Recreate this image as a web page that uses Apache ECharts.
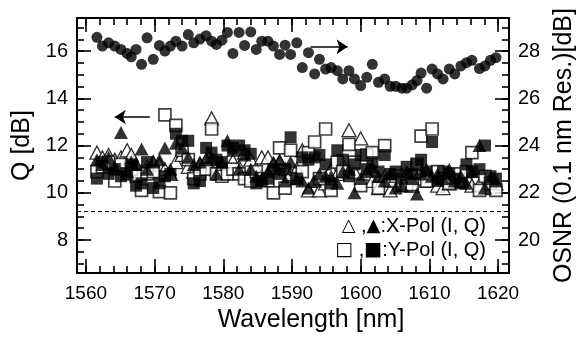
<!DOCTYPE html>
<html><head><meta charset="utf-8">
<script src="https://cdn.jsdelivr.net/npm/echarts@6/dist/echarts.min.js"></script>
<style>html,body{margin:0;padding:0;background:#fff}#c{width:585px;height:338px}</style>
</head><body><div id="c"></div>
<script>
// ---- data ----
const wavelength = [1561.6,1562.4,1563.3,1564.2,1565.1,1566.0,1566.6,1567.3,1568.1,1568.9,
  1569.8,1570.7,1571.5,1572.3,1573.1,1574.0,1574.9,1575.7,1576.6,1577.5,
  1578.3,1579.0,1579.8,1580.6,1581.4,1582.3,1583.1,1584.0,1584.8,1585.6,
  1586.5,1587.3,1588.2,1589.0,1589.8,1590.7,1591.5,1592.4,1593.3,1594.0,
  1594.9,1595.7,1596.6,1597.4,1598.3,1599.1,1600.0,1600.9,1601.7,1602.6,
  1603.5,1604.3,1605.1,1606.0,1606.7,1607.5,1608.2,1608.8,1609.6,1610.4,
  1611.2,1612.0,1612.9,1613.7,1614.6,1615.4,1616.2,1617.3,1618.1,1618.9,1619.7];
const osnr = [28.58,28.21,28.35,28.21,28.07,27.90,27.76,28.07,27.44,28.56,
  27.65,28.24,28.00,28.21,28.42,28.21,28.70,28.35,28.51,28.65,
  28.42,28.28,28.46,28.79,27.90,28.79,28.24,28.81,28.07,28.42,
  28.42,28.21,27.86,28.25,27.86,28.35,27.30,27.93,27.03,27.65,
  27.24,27.30,27.17,26.82,27.17,26.82,26.54,26.89,27.44,26.68,
  26.82,26.51,26.51,26.43,26.43,26.57,26.75,27.07,26.43,27.24,
  27.03,26.82,27.24,27.03,27.37,27.51,27.61,27.26,27.37,27.61,27.72];
const xPolI = [11.7,11.5,11.6,11.4,11.5,11.8,11.6,11.2,10.9,11.1,
  11.3,11.2,11.0,10.8,11.3,11.6,11.1,10.9,11.2,11.4,
  13.15,11.0,10.8,11.0,11.35,11.1,11.7,11.4,11.0,11.5,
  11.5,11.2,11.3,11.0,10.8,11.0,11.8,10.1,10.5,10.1,
  10.4,11.0,10.8,11.2,12.65,10.9,12.3,10.8,10.5,10.2,
  10.7,10.1,10.6,10.8,10.4,10.3,10.6,10.9,10.5,10.7,
  10.3,10.2,10.4,10.6,10.5,10.7,10.3,10.35,10.2,10.6,10.4];
const xPolQ = [11.4,11.2,11.5,11.1,12.55,10.9,11.3,11.2,11.85,11.0,
  11.3,11.4,11.9,11.0,12.1,11.9,11.5,11.2,11.3,11.4,
  11.5,10.8,11.3,12.2,11.8,11.0,11.6,11.0,10.7,10.6,
  10.9,11.3,11.4,10.5,11.3,10.6,10.5,10.2,10.5,10.8,
  10.7,10.7,10.4,10.9,11.0,10.0,10.6,10.9,11.1,10.7,
  10.5,10.8,10.2,10.3,10.9,10.6,9.95,10.8,11.0,10.7,
  10.8,10.6,11.0,10.5,10.7,10.4,10.9,12.0,10.2,10.6,10.5];
const yPolI = [10.9,11.1,11.3,10.5,11.2,10.8,11.0,10.7,10.1,10.8,
  10.9,10.05,13.3,10.0,12.85,11.8,11.4,10.6,10.8,11.0,
  12.7,10.8,10.7,10.8,11.0,10.8,10.6,10.5,10.9,10.6,
  10.5,10.0,11.9,10.2,11.8,10.6,10.9,11.7,12.15,10.6,
  12.7,10.1,11.3,10.9,12.05,11.3,10.3,11.6,11.7,10.2,
  12.0,10.5,10.7,10.4,10.3,10.35,11.2,12.4,10.5,12.7,
  10.9,10.6,10.4,10.8,10.5,10.9,11.7,10.1,10.7,10.4,10.1];
const yPolQ = [10.6,11.3,10.8,11.0,10.7,10.8,11.2,10.3,10.4,11.3,
  10.2,10.4,10.7,10.8,12.5,12.2,12.2,10.4,10.5,11.9,
  11.7,11.4,11.3,12.0,11.9,12.0,11.8,11.65,10.4,10.5,
  10.6,11.0,10.8,11.0,12.35,10.6,11.5,11.4,11.5,11.6,
  11.2,10.4,11.8,11.4,10.7,11.2,11.6,11.0,11.3,10.9,
  11.6,10.8,10.9,10.6,11.1,10.8,11.2,11.4,10.9,12.15,
  10.5,10.9,10.8,10.6,10.4,11.2,10.9,11.0,12.0,10.7,10.6];
const qThreshold = 9.2;
const wlMajor = [1560,1570,1580,1590,1600,1610,1620];
const wlMinor = [1560,1562,1564,1566,1568,1570,1572,1574,1576,1578,1580,1582,1584,1586,1588,1590,
  1592,1594,1596,1598,1600,1602,1604,1606,1608,1610,1612,1614,1616,1618,1620];
const qMajor = [8,10,12,14,16];
const qMinor = [7,7.5,8,8.5,9,9.5,10,10.5,11,11.5,12,12.5,13,13.5,14,14.5,15,15.5,16,16.5,17];
const osnrMajor = [20,22,24,26,28];
const osnrMinor = [19,19.5,20,20.5,21,21.5,22,22.5,23,23.5,24,24.5,25,25.5,26,26.5,27,27.5,28,28.5,29];
// annotation arrows (data coordinates)
const qArrow = [[1569.3, 13.21],[1564.2, 13.21]];
const osnrArrow = [[1592.7, 28.18],[1598.1, 28.18]];

const FONT = 'Liberation Sans, Arial, sans-serif';
const pairs = arr => wavelength.map((w,i)=>[w, arr[i]]);
const X_MIN = 1558.7, X_MAX = 1621.6, Q_MIN = 6.6, Q_MAX = 17.4, O_MIN = 18.6, O_MAX = 29.4;
const plain = v => String(v);

function xAx(pos, ticks, len, labels) {
  return {type:'value', position:pos, min:X_MIN, max:X_MAX, gridIndex:0,
    axisLine:{show:false}, splitLine:{show:false},
    axisTick:{show:true, inside:true, length:len, customValues:ticks, lineStyle:{color:'#000', width:1.6}},
    axisLabel:labels ? {show:true, customValues:labels, formatter:plain, color:'#000', fontFamily:FONT, fontSize:19, margin:11} : {show:false}};
}
function yAx(pos, min, max, ticks, len, labels) {
  return {type:'value', position:pos, min:min, max:max, gridIndex:0,
    axisLine:{show:false}, splitLine:{show:false},
    axisTick:{show:true, inside:true, length:len, customValues:ticks, lineStyle:{color:'#000', width:1.6}},
    axisLabel:labels ? {show:true, customValues:labels, formatter:plain, color:'#000', fontFamily:FONT, fontSize:20, margin:9} : {show:false}};
}

const xAxes = [xAx('bottom', wlMajor, 14, wlMajor), xAx('bottom', wlMinor, 7), xAx('top', wlMajor, 14), xAx('top', wlMinor, 7)];
xAxes[0].name = 'Wavelength [nm]';
xAxes[0].nameLocation = 'middle';
xAxes[0].nameGap = 30;
xAxes[0].nameTextStyle = {color:'#000', fontFamily:FONT, fontSize:25, padding:[0,0,0,36]};

const yAxes = [yAx('left', Q_MIN, Q_MAX, qMajor, 14, qMajor), yAx('left', Q_MIN, Q_MAX, qMinor, 7),
  yAx('right', O_MIN, O_MAX, osnrMajor, 14, osnrMajor), yAx('right', O_MIN, O_MAX, osnrMinor, 7)];
yAxes[0].name = 'Q [dB]';
yAxes[0].nameLocation = 'middle';
yAxes[0].nameRotate = 90;
yAxes[0].nameGap = 35;
yAxes[0].nameTextStyle = {color:'#000', fontFamily:FONT, fontSize:25};
yAxes[2].name = 'OSNR (0.1 nm Res.)[dB]';
yAxes[2].nameLocation = 'middle';
yAxes[2].nameRotate = 90;
yAxes[2].nameGap = 43;
yAxes[2].nameTextStyle = {color:'#000', fontFamily:FONT, fontSize:25};

const arrowLine = pts => ({silent:true, symbol:['none','arrow'], symbolSize:11, label:{show:false},
  lineStyle:{color:'#000', width:1.6, type:'solid'}, emphasis:{disabled:true},
  data:[[{coord:pts[0], symbol:'none'},{coord:pts[1], symbol:'arrow', symbolSize:11}]]});

const chart = echarts.init(document.getElementById('c'), null, {renderer:'canvas'});
chart.setOption({
  animation:false,
  backgroundColor:'#fff',
  grid:{left:77, right:73, top:18, bottom:63, show:true, borderColor:'#000', borderWidth:2, backgroundColor:'transparent'},
  xAxis:xAxes,
  yAxis:yAxes,
  series:[
    {type:'scatter', name:'OSNR', xAxisIndex:0, yAxisIndex:2, data:pairs(osnr), symbol:'circle', symbolSize:11,
      itemStyle:{color:'#000'}, silent:true, markLine:arrowLine(osnrArrow)},
    {type:'scatter', name:'X-Pol I', xAxisIndex:0, yAxisIndex:0, data:pairs(xPolI), symbol:'triangle', symbolSize:[14,13],
      itemStyle:{color:'#fff', borderColor:'#000', borderWidth:1.3}, silent:true, markLine:arrowLine(qArrow)},
    {type:'scatter', name:'Y-Pol I', xAxisIndex:0, yAxisIndex:0, data:pairs(yPolI), symbol:'rect', symbolSize:12,
      itemStyle:{color:'#fff', borderColor:'#111', borderWidth:1.7}, silent:true,
      markLine:{silent:true, symbol:['none','none'], label:{show:false},
        lineStyle:{color:'#000', width:1, type:[4,3]},
        data:[{yAxis:qThreshold}]}},
    {type:'scatter', name:'X-Pol Q', xAxisIndex:0, yAxisIndex:0, data:pairs(xPolQ), symbol:'triangle', symbolSize:[14,13],
      itemStyle:{color:'#000'}, silent:true},
    {type:'scatter', name:'Y-Pol Q', xAxisIndex:0, yAxisIndex:0, data:pairs(yPolQ), symbol:'rect', symbolSize:12,
      itemStyle:{color:'#000'}, silent:true}
  ],
  graphic:[
    {type:'text', right:99, top:216, style:{text:'{s|△} ,{s|▲}:X-Pol (I, Q)', fill:'#000', font:'20px ' + FONT,
      rich:{s:{fontFamily:'DejaVu Sans', fontSize:18, fill:'#000'}}}},
    {type:'text', right:99, top:240, style:{text:'{s|□} ,{s|■}:Y-Pol (I, Q)', fill:'#000', font:'20px ' + FONT,
      rich:{s:{fontFamily:'DejaVu Sans', fontSize:19, fill:'#000'}}}}
  ]
});
</script></body></html>
